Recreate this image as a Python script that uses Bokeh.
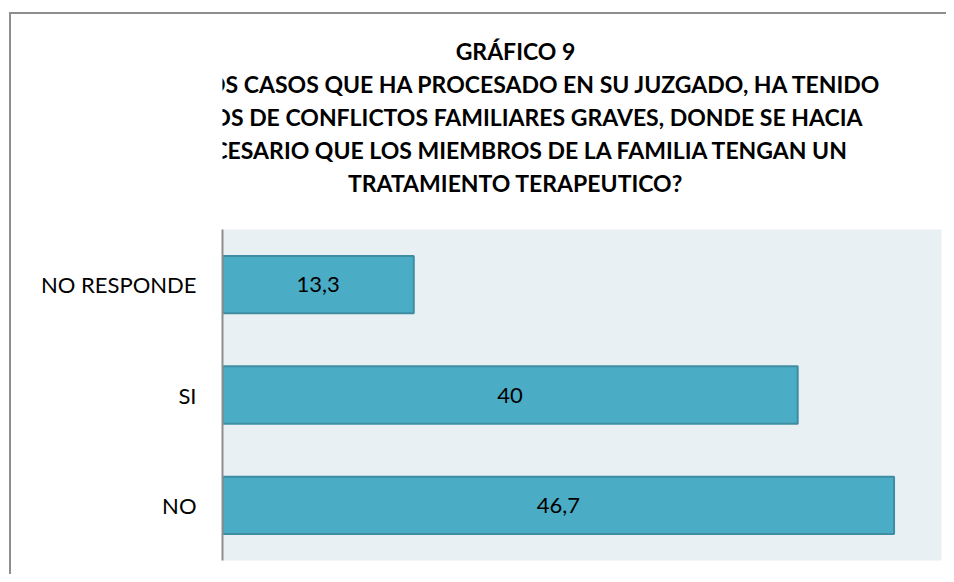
from bokeh.plotting import figure
from bokeh.layouts import column
from bokeh.models import Range1d, FactorRange, ColumnDataSource
from bokeh.core.properties import value
from bokeh.embed import file_html
from bokeh.resources import INLINE

categories = ["NO", "SI", "NO RESPONDE"]
values = [46.7, 40, 13.3]
value_labels = ["46,7", "40", "13,3"]
title_lines = [
    "GRÁFICO 9",
    "¿EN LOS CASOS QUE HA PROCESADO EN SU JUZGADO, HA TENIDO",
    "CASOS DE CONFLICTOS FAMILIARES GRAVES, DONDE SE HACIA",
    "NECESARIO QUE LOS MIEMBROS DE LA FAMILIA TENGAN UN",
    "TRATAMIENTO TERAPEUTICO?",
]

FONT = "Lato"
TITLE_H = 200

# ---- title panel (pixel-space figure, no axes) ----
tf = figure(width=935, height=TITLE_H, x_range=Range1d(0, 935), y_range=Range1d(TITLE_H, 0),
            x_axis_location=None, y_axis_location=None,
            output_backend="svg", toolbar_location=None,
            min_border=0, min_border_left=0, min_border_right=0,
            min_border_top=0, min_border_bottom=0)
tf.grid.grid_line_color = None
tf.outline_line_color = None
tf.background_fill_color = "white"
tf.border_fill_color = "white"
tsrc = ColumnDataSource(dict(x=[381] * len(title_lines),
                             y=[36 + 33 * i for i in range(len(title_lines))],
                             t=title_lines))
tf.text(x="x", y="y", text="t", source=tsrc, text_font=value(FONT),
        text_font_size="23px", text_font_style="bold", text_color="black",
        text_align="center", text_baseline="alphabetic")

# ---- bar chart ----
p = figure(
    width=935, height=360,
    x_range=Range1d(0, 50),
    y_range=FactorRange(*categories),
    output_backend="svg", toolbar_location=None,
    min_border_left=211, min_border_right=5, min_border_top=15, min_border_bottom=14,
)
p.background_fill_color = "#E8F0F4"
p.border_fill_color = "white"
p.outline_line_color = None
p.xgrid.grid_line_color = None
p.ygrid.grid_line_color = None

p.xaxis.visible = False
ax = p.yaxis[0]
ax.axis_line_color = "#8e8e8e"
ax.axis_line_width = 2
ax.major_tick_line_color = None
ax.minor_tick_line_color = None
ax.major_tick_out = 0
ax.major_label_standoff = 26
ax.major_label_text_font = FONT
ax.major_label_text_font_size = "22px"
ax.major_label_text_color = "black"

src = ColumnDataSource(dict(cat=categories, val=values,
                            mid=[v / 2 for v in values], lab=value_labels))
p.hbar(y="cat", right="val", left=0, height=0.52, source=src,
       fill_color="#4BACC6", line_color="#3F8DA2", line_width=2)
p.text(x="mid", y="cat", text="lab", source=src,
       text_font=value(FONT), text_font_size="22px", text_color="black",
       text_align="center", text_baseline="middle")

layout = column(tf, p, spacing=0)
layout.styles = {"margin-left": "9px", "margin-top": "12px",
                 "border-left": "2px solid #8e8e8e", "border-top": "2px solid #8e8e8e"}

open("out.html", "w").write(file_html(layout, INLINE))
